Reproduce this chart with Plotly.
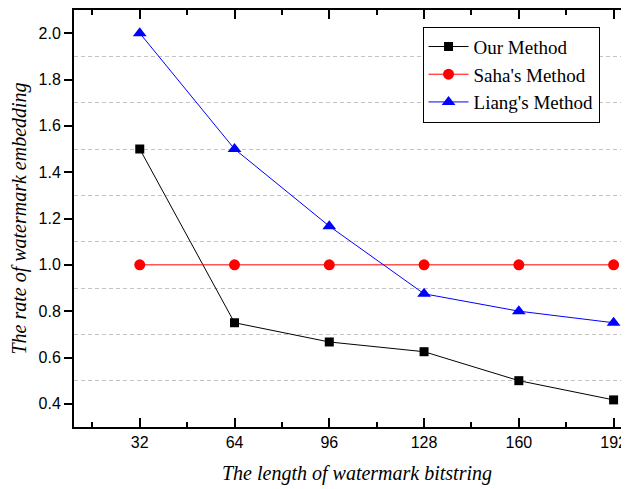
import plotly.graph_objects as go

lengths = [32, 64, 96, 128, 160, 192]
our_method = [1.5, 0.75, 0.667, 0.625, 0.5, 0.417]
saha_method = [1.0, 1.0, 1.0, 1.0, 1.0, 1.0]
liang_method = [2.0, 1.5, 1.167, 0.875, 0.8, 0.75]
x_ticks = [32, 64, 96, 128, 160, 192]
y_ticks = [0.4, 0.6, 0.8, 1.0, 1.2, 1.4, 1.6, 1.8, 2.0]

fig = go.Figure()
fig.add_trace(go.Scatter(x=lengths, y=our_method, mode="lines+markers", name="Our Method",
                         line=dict(color="black", width=1),
                         marker=dict(symbol="square", size=9, color="black")))
fig.add_trace(go.Scatter(x=lengths, y=saha_method, mode="lines+markers", name="Saha's Method",
                         line=dict(color="red", width=1),
                         marker=dict(symbol="circle", size=11, color="red")))
fig.add_trace(go.Scatter(x=lengths, y=liang_method, mode="lines+markers", name="Liang's Method",
                         line=dict(color="blue", width=1),
                         marker=dict(symbol="triangle-up", size=12, color="blue")))

fig.update_layout(
    width=629, height=489,
    margin=dict(l=66, r=8, t=0, b=70),
    plot_bgcolor="white", paper_bgcolor="white",
    showlegend=True,
    legend=dict(x=0.628, y=0.96, xanchor="left", yanchor="top",
                bgcolor="white", bordercolor="black", borderwidth=1,
                font=dict(family="Liberation Serif", size=19, color="black"),
                tracegroupgap=0, itemwidth=40),
    xaxis=dict(range=[9.8, 197.2], tickvals=x_ticks, ticks="inside", ticklen=9,
               tickwidth=1.5, tickcolor="black", showline=True, linecolor="black",
               linewidth=2, mirror="ticks", showgrid=False, zeroline=False,
               tickfont=dict(family="Liberation Sans", size=16, color="black"),
               minor=dict(tick0=16, dtick=32, ticks="inside", ticklen=5,
                          tickwidth=1.5, tickcolor="black")),
    yaxis=dict(range=[0.3, 2.1], tickvals=y_ticks, ticktext=[f"{v:.1f}" for v in y_ticks],
               ticks="outside", ticklen=8, tickwidth=1.5, tickcolor="black",
               showline=True, linecolor="black", linewidth=2, mirror=False,
               showgrid=False, zeroline=False,
               tickfont=dict(family="Liberation Sans", size=16, color="black"),
               minor=dict(tick0=0.3, dtick=0.2, showgrid=True, griddash="4px,3px",
                          gridcolor="#c4c4c4", gridwidth=1, ticks=""),
               title=dict(text="The rate of watermark embedding", standoff=10,
                          font=dict(family="Liberation Serif", size=20, color="black",
                                    style="italic"))),
    annotations=[dict(text="The length of watermark bitstring", xref="paper", yref="paper",
                      x=0.51, y=0, xanchor="center", yanchor="middle", yshift=-46,
                      showarrow=False,
                      font=dict(family="Liberation Serif", size=20, color="black",
                                style="italic"))],
)

fig.write_html("out.html")
